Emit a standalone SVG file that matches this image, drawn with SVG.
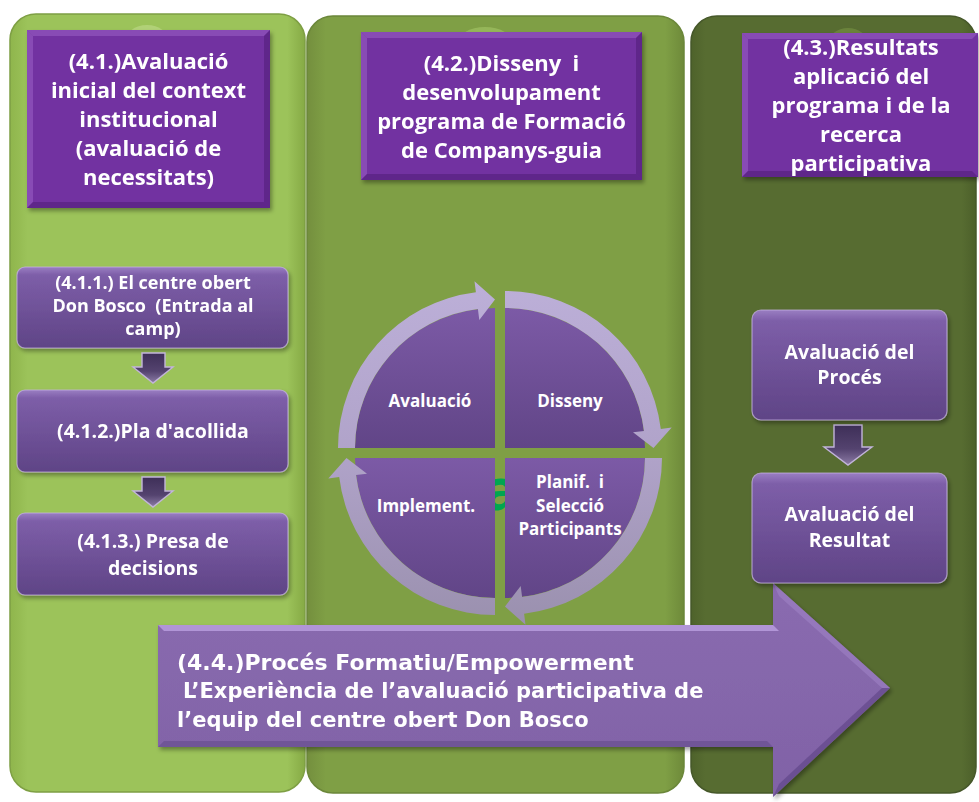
<svg xmlns="http://www.w3.org/2000/svg" width="979" height="802" viewBox="0 0 979 802">
<style>
.hd{font-family:"Open Sans","Liberation Sans",sans-serif;font-weight:bold;font-size:22px;fill:#ffffff;text-anchor:middle}
.bx{font-family:"Open Sans","Liberation Sans",sans-serif;font-weight:bold;font-size:19.5px;fill:#ffffff;text-anchor:middle}
.cy{font-family:"Open Sans","Liberation Sans",sans-serif;font-weight:bold;font-size:17px;fill:#ffffff;text-anchor:middle}
.ar{font-family:"DejaVu Sans","Liberation Sans",sans-serif;font-weight:bold;font-size:21px;fill:#ffffff}
.hdbox{fill:#7232A1}
.bvl{fill:#9A62C6;opacity:0.55}
.bvd{fill:#4E1F78;opacity:0.55}
.sbox{fill:url(#gBox);stroke:#C9B6E6;stroke-width:1.2;stroke-opacity:0.7}
.darr{fill:url(#gDown);stroke:#C2B4DA;stroke-width:1.4}
.quad{fill:url(#gQuad)}
.band{fill:url(#gBand)}
</style>
<defs>
<linearGradient id="gP1" x1="0" y1="0" x2="1" y2="0">
<stop offset="0" stop-color="#8FB54C"/><stop offset="0.06" stop-color="#9CC35A"/><stop offset="0.94" stop-color="#9CC35A"/><stop offset="1" stop-color="#86AA45"/>
</linearGradient>
<linearGradient id="gP2" x1="0" y1="0" x2="1" y2="0">
<stop offset="0" stop-color="#748F3E"/><stop offset="0.05" stop-color="#7F9F45"/><stop offset="0.95" stop-color="#7F9F45"/><stop offset="1" stop-color="#6E8A3A"/>
</linearGradient>
<linearGradient id="gP3" x1="0" y1="0" x2="1" y2="0">
<stop offset="0" stop-color="#4E622B"/><stop offset="0.05" stop-color="#576C31"/><stop offset="0.95" stop-color="#576C31"/><stop offset="1" stop-color="#4C5F2A"/>
</linearGradient>
<linearGradient id="gBox" x1="0" y1="0" x2="0" y2="1">
<stop offset="0" stop-color="#9A7EC2"/><stop offset="0.1" stop-color="#7D5EA8"/><stop offset="1" stop-color="#5F4486"/>
</linearGradient>
<linearGradient id="gQuad" x1="0" y1="0" x2="0" y2="1">
<stop offset="0" stop-color="#7C5AA6"/><stop offset="1" stop-color="#614587"/>
</linearGradient>
<linearGradient id="gBand" gradientUnits="userSpaceOnUse" x1="0" y1="285" x2="0" y2="625">
<stop offset="0" stop-color="#BCAFD8"/><stop offset="0.5" stop-color="#B0A3C9"/><stop offset="1" stop-color="#9A90AE"/>
</linearGradient>
<linearGradient id="gDown" x1="0" y1="0" x2="0" y2="1">
<stop offset="0" stop-color="#3E2F58"/><stop offset="0.6" stop-color="#54436F"/><stop offset="1" stop-color="#8C7CA6"/>
</linearGradient>
<linearGradient id="gBig" x1="0" y1="0" x2="0" y2="1">
<stop offset="0" stop-color="#8A6BB0"/><stop offset="1" stop-color="#8062A6"/>
</linearGradient>
<filter id="sh" x="-10%" y="-10%" width="130%" height="130%">
<feDropShadow dx="2" dy="3" stdDeviation="2" flood-color="#000000" flood-opacity="0.35"/>
</filter>
</defs>

<g id="panel-1">
<rect x="10" y="14" width="295" height="778" rx="26" fill="url(#gP1)" stroke="#7E9F44" stroke-width="1.5"/>
<ellipse cx="147" cy="42" rx="22" ry="17" fill="#B6D57E" opacity="0.8"/>
</g>
<g id="panel-2">
<rect x="307" y="16" width="377" height="777" rx="26" fill="url(#gP2)" stroke="#6B873A" stroke-width="1.5"/>
<ellipse cx="485" cy="44" rx="28" ry="17" fill="#9BBC5E" opacity="0.8"/>
</g>
<g id="panel-3">
<rect x="691" y="16" width="285" height="777" rx="26" fill="url(#gP3)" stroke="#46582A" stroke-width="1.5"/>
<ellipse cx="848" cy="44" rx="20" ry="16" fill="#6F8A3E" opacity="0.8"/>
</g>

<g id="h41" filter="url(#sh)">
<rect class="hdbox" x="27" y="30" width="243" height="178"/>
<polygon class="bvl" points="27,30 270,30 264,36 33,36"/>
<polygon class="bvl" points="27,30 33,36 33,202 27,208" opacity="0.3"/>
<polygon class="bvd" points="270,30 270,208 264,202 264,36"/>
<polygon class="bvd" points="27,208 33,202 264,202 270,208"/>
<text class="hd" x="148.5" y="69">(4.1.)Avaluació</text>
<text class="hd" x="148.5" y="98">inicial del context</text>
<text class="hd" x="148.5" y="127">institucional</text>
<text class="hd" x="148.5" y="156">(avaluació de</text>
<text class="hd" x="148.5" y="185">necessitats)</text>
</g>

<g id="h42" filter="url(#sh)">
<rect class="hdbox" x="361" y="32" width="281" height="148"/>
<polygon class="bvl" points="361,32 642,32 636,38 367,38"/>
<polygon class="bvl" points="361,32 367,38 367,174 361,180" opacity="0.3"/>
<polygon class="bvd" points="642,32 642,180 636,174 636,38"/>
<polygon class="bvd" points="361,180 367,174 636,174 642,180"/>
<text class="hd" x="501.5" y="71">(4.2.)Disseny &#160;i</text>
<text class="hd" x="501.5" y="100">desenvolupament</text>
<text class="hd" x="501.5" y="129">programa de Formació</text>
<text class="hd" x="501.5" y="158">de Companys-guia</text>
</g>

<g id="h43" filter="url(#sh)">
<rect class="hdbox" x="742" y="33" width="236" height="144"/>
<polygon class="bvl" points="742,33 978,33 972,39 748,39"/>
<polygon class="bvl" points="742,33 748,39 748,171 742,177" opacity="0.3"/>
<polygon class="bvd" points="742,177 748,171 972,171 978,177"/>
<text class="hd" x="861" y="55">(4.3.)Resultats</text>
<text class="hd" x="861" y="84">aplicació del</text>
<text class="hd" x="861" y="113">programa i de la</text>
<text class="hd" x="861" y="142">recerca</text>
<text class="hd" x="861" y="171">participativa</text>
</g>

<g id="b411" filter="url(#sh)">
<rect class="sbox" x="17" y="267" width="271" height="81" rx="8"/>
<text class="bx" x="153" y="289" style="font-size:18px">(4.1.1.) El centre obert</text>
<text class="bx" x="153" y="312" style="font-size:18px">Don Bosco &#160;(Entrada al</text>
<text class="bx" x="153" y="335" style="font-size:18px">camp)</text>
</g>
<g id="b412" filter="url(#sh)">
<rect class="sbox" x="17" y="390" width="271" height="82" rx="8"/>
<text class="bx" x="153" y="438">(4.1.2.)Pla d'acollida</text>
</g>
<g id="b413" filter="url(#sh)">
<rect class="sbox" x="17" y="513" width="271" height="82" rx="8"/>
<text class="bx" x="153" y="548">(4.1.3.) Presa de</text>
<text class="bx" x="153" y="575">decisions</text>
</g>

<g id="cycle">
<text x="501" y="510" font-family="Open Sans, sans-serif" font-weight="bold" font-size="58" fill="#00A651" text-anchor="middle">a</text>
<g id="q-avaluacio">
<path class="quad" d="M495,448 L355,448 A140,140 0 0 1 495,308 Z"/>
<text class="cy" x="430" y="407">Avaluació</text>
</g>
<g id="q-disseny">
<path class="quad" d="M505,448 L505,308 A140,140 0 0 1 645,448 Z"/>
<text class="cy" x="570" y="407">Disseny</text>
</g>
<g id="q-planif">
<path class="quad" d="M505,458 L645,458 A140,140 0 0 1 505,598 Z"/>
<text class="cy" x="570" y="488">Planif. &#160;i</text>
<text class="cy" x="570" y="512">Selecció</text>
<text class="cy" x="570" y="535">Participants</text>
</g>
<g id="q-implement">
<path class="quad" d="M495,458 L495,598 A140,140 0 0 1 355,458 Z"/>
<text class="cy" x="426" y="512">Implement.</text>
</g>
</g>

<g id="connectors">
<path class="band" d="M338,448 A157,157 0 0 1 475.9,292.2 L474.5,281.3 L495,299.5 L479.3,320 L477.9,309 A140,140 0 0 0 355,448 Z"/>
<path class="band" d="M505,291 A157,157 0 0 1 660.8,428.9 L671.7,427.5 L653.5,448 L633,432.3 L644,430.9 A140,140 0 0 0 505,308 Z"/>
<path class="band" d="M662,458 A157,157 0 0 1 524.1,613.8 L525.5,624.7 L505,606.5 L520.7,586 L522.1,597 A140,140 0 0 0 645,458 Z"/>
<path class="band" d="M495,615 A157,157 0 0 1 339.2,477.1 L328.3,478.5 L346.5,458 L367,473.7 L356,475.1 A140,140 0 0 0 495,598 Z"/>
<polygon class="darr" points="142,353 165,353 165,367 173,367 153,383 133,367 142,367"/>
<polygon class="darr" points="142,477 165,477 165,491 173,491 153,507 133,491 142,491"/>
<polygon class="darr" points="834,425 862,425 862,447 872,447 848,465 824,447 834,447"/>
</g>

<g id="a44" filter="url(#sh)">
<path d="M158,625 L773,625 L773,583 L890,688 L773,797 L773,747 L158,747 Z" fill="url(#gBig)"/>
<path d="M158,625 L773,625 L779,631 L164,631 Z" fill="#C3A8E8" opacity="0.7"/>
<path d="M773,583 L890,688 L882,688 L779,596 Z" fill="#9E82C4" opacity="0.6"/>
<path d="M890,688 L773,797 L779,784 L882,688 Z" fill="#5E4386" opacity="0.6"/>
<path d="M158,747 L773,747 L767,741 L164,741 Z" fill="#5E4386" opacity="0.5"/>
<text class="ar" x="177" y="670" style="font-size:22px">(4.4.)Procés Formatiu/Empowerment</text>
<text class="ar" x="183" y="698">L’Experiència de l’avaluació participativa de</text>
<text class="ar" x="177" y="727">l’equip del centre obert Don Bosco</text>
</g>

<g id="bproces" filter="url(#sh)">
<rect class="sbox" x="752" y="310" width="195" height="110" rx="9"/>
<text class="bx" x="849.5" y="359">Avaluació del</text>
<text class="bx" x="849.5" y="384">Procés</text>
</g>
<g id="bresultat" filter="url(#sh)">
<rect class="sbox" x="752" y="473" width="195" height="110" rx="9"/>
<text class="bx" x="849.5" y="521">Avaluació del</text>
<text class="bx" x="849.5" y="547">Resultat</text>
</g>
</svg>
